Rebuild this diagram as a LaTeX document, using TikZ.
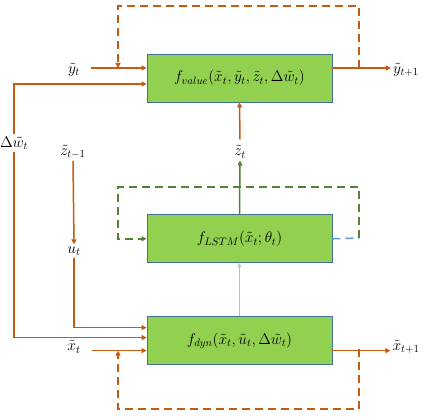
\documentclass[tikz,border=0pt]{standalone}
\usepackage{fix-cm}
\usepackage{amsmath}
\usepackage{xcolor}
\definecolor{flow}{RGB}{197,90,17}
\definecolor{rec}{RGB}{84,130,53}
\definecolor{back}{RGB}{91,155,213}
\definecolor{blkfill}{RGB}{146,208,80}
\definecolor{blkline}{RGB}{65,113,156}
\usetikzlibrary{positioning,arrows.meta,calc}

\begin{document}
\begin{tikzpicture}[x=1pt, y=1pt,
  font=\fontsize{15.5}{18}\selectfont,
  blk/.style={draw=blkline, fill=blkfill, line width=0.8pt, minimum width=185pt, minimum height=48pt, inner sep=2pt},
  lbl/.style={inner sep=2pt},
  arr/.style={-{Triangle[length=5pt,width=5pt]}, line width=1.5pt, flow},
  recarr/.style={arr, rec},
  thinarr/.style={-{Triangle[length=4pt,width=4pt]}, line width=0.6pt, black!25},
  fb/.style={line width=1.5pt, flow, dash pattern=on 8pt off 5pt},
  fbarr/.style={fb, -{Triangle[length=5pt,width=5pt]}},
  lfb/.style={fb, rec},
  lfbarr/.style={fbarr, rec},
  node distance=112pt]
\useasboundingbox (0,0) rectangle (428,416);
\node[blk] (value) at (239.5,338) {$f_{value}(\tilde{x}_t,\tilde{y}_t,\tilde{z}_t,\Delta\tilde{w}_t)$};
\node[blk, below=of value] (lstm) {$f_{LSTM}(\tilde{x}_t;\theta_t)$};
\node[blk, below=53pt of lstm] (dyn) {$f_{dyn}(\tilde{x}_t,\tilde{u}_t,\Delta\tilde{w}_t)$};
\node[lbl] (yt) at (74,346) {$\tilde{y}_t$};
\node[lbl] (ytp1) at (406,346) {$\tilde{y}_{t+1}$};
\node[lbl] (dw) at (14,273) {$\Delta\tilde{w}_t$};
\node[lbl] (ztm1) at (73,264) {$\tilde{z}_{t-1}$};
\node[lbl] (ut) at (74,165) {$u_t$};
\node[lbl] (zt) at (240,264) {$\tilde{z}_t$};
\node[lbl] (xt) at (74,69) {$\tilde{x}_t$};
\node[lbl] (xtp1) at (406,69) {$\tilde{x}_{t+1}$};
\coordinate (vinY) at ($(value.west)+(0,10)$);
\coordinate (vinW) at ($(value.west)+(0,-6)$);
\coordinate (vout) at ($(value.east)+(0,10)$);
\coordinate (dinU) at ($(dyn.west)+(0,13)$);
\coordinate (dinW) at ($(dyn.west)+(0,3)$);
\coordinate (dinX) at ($(dyn.west)+(0,-10)$);
\coordinate (dout) at ($(dyn.east)+(0,-10)$);
\coordinate (vtap) at (359,348);
\coordinate (vtop) at (118,410);
\coordinate (ltap) at (359,178);
\coordinate (ltop) at (118,229);
\coordinate (dtap) at (359,67);
\coordinate (dbot) at (118,7);
\draw[arr] (vinY -| yt.east) ++(9,0) -- (vinY);
\draw[arr] (dw.north) |- (vinW);
\draw[arr] (vout) -- (vout -| ytp1.west);
\draw[arr] ([yshift=4pt]zt.north) -- (value.south);
\draw[recarr] (lstm.north) -- (zt.south);
\draw[thinarr] (dyn.north) -- (lstm.south);
\draw[arr] (ztm1.south) -- (ut.north);
\draw[arr] (ut.south) |- (dinU);
\draw[arr] (dw.south) |- (dinW);
\draw[arr] (dinX -| xt.east) ++(9,0) -- (dinX);
\draw[arr] (dout) -- (dout -| xtp1.west);
\draw[fbarr] (vtap) |- (vtop) -- (vtop |- vinY);
\draw[fb, back] (lstm.east) -- (ltap);
\draw[lfbarr] (ltap) |- (ltop) |- (lstm.west);
\draw[fbarr] (dtap) |- (dbot) -- (dbot |- dinX);
\end{tikzpicture}
\end{document}
